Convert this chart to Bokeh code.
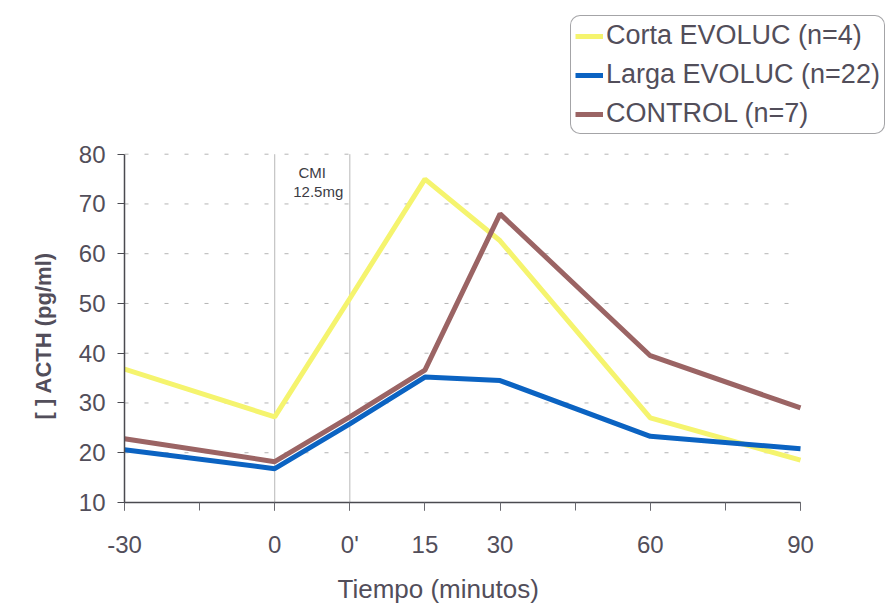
from bokeh.plotting import figure
from bokeh.models import Range1d, FixedTicker, Label, Legend, LegendItem, Title
from bokeh.embed import file_html
from bokeh.resources import INLINE

# ---- data ----
time_labels = ["-30", "0", "0'", "15", "30", "60", "90"]
slots = [0, 2, 3, 4, 5, 7, 9]          # spacing of the time axis as drawn
corta = [36.8, 27.2, 51.0, 75.0, 62.6, 27.0, 18.5]
larga = [20.6, 16.8, 25.8, 35.2, 34.5, 23.3, 20.8]
control = [22.8, 18.2, 27.2, 36.6, 68.0, 39.5, 29.0]
series_names = ["Corta EVOLUC (n=4)", "Larga EVOLUC (n=22)", "CONTROL (n=7)"]
y_ticks = [10, 20, 30, 40, 50, 60, 70, 80]
x_title = "Tiempo (minutos)"
y_title = "[ ] ACTH (pg/ml)"

TXT = "#524e5a"
FONT = "Liberation Sans"
W, H = 896, 614
LEFT, BOTTOM = 124, 111           # frame left / bottom border in px
AX_TOP, AX_RIGHT = 154, 800       # where the axes end (px from top-left)

# ranges: the frame is extended up and right so the legend lives inside it
y_per_px = (y_ticks[-1] - y_ticks[0]) / (H - BOTTOM - AX_TOP)
x_per_px = (slots[-1] - slots[0]) / (AX_RIGHT - LEFT)
y_end = y_ticks[-1] + AX_TOP * y_per_px
x_end = slots[-1] + (W - AX_RIGHT) * x_per_px

p = figure(width=W, height=H, output_backend="svg", toolbar_location=None,
           x_range=Range1d(slots[0], x_end), y_range=Range1d(y_ticks[0], y_end),
           min_border_left=LEFT, min_border_right=0, min_border_top=0,
           min_border_bottom=BOTTOM)
p.outline_line_color = None
p.background_fill_color = "white"
p.xgrid.grid_line_color = None
p.ygrid.grid_line_color = None

# dotted horizontal guides, only across the data area
p.segment(x0=[slots[0]] * len(y_ticks[1:]), x1=[slots[-1]] * len(y_ticks[1:]),
          y0=y_ticks[1:], y1=y_ticks[1:], line_color="#b4b4b4", line_width=1,
          line_dash="4 16")

# axes
p.xaxis.ticker = FixedTicker(ticks=slots, minor_ticks=list(range(slots[0], slots[-1] + 1)))
p.xaxis.major_label_overrides = {s: l for s, l in zip(slots, time_labels)}
p.xaxis.bounds = (slots[0], slots[-1])
p.yaxis.ticker = FixedTicker(ticks=y_ticks)
p.yaxis.bounds = (y_ticks[0], y_ticks[-1])
for ax in (p.xaxis, p.yaxis):
    ax.axis_line_color = "#4a4a50"
    ax.axis_line_width = 1.5
    ax.major_tick_line_color = "#4a4a50"
    ax.minor_tick_line_color = "#6a6a70"
    ax.major_tick_in = 0
    ax.minor_tick_in = 0
    ax.major_label_text_color = TXT
    ax.major_label_text_font = FONT
    ax.major_label_text_font_size = "24px"
p.xaxis.major_tick_out = 8
p.xaxis.minor_tick_out = 8
p.yaxis.major_tick_out = 7
p.yaxis.minor_tick_out = 0
p.xaxis.major_label_standoff = 20
p.yaxis.major_label_standoff = 12

# axis titles as side titles so they can sit where the original has them
p.add_layout(Title(text=y_title, align="left", offset=83, standoff=40,
                   text_font=FONT, text_font_size="22px", text_font_style="bold",
                   text_color=TXT), "left")
p.add_layout(Title(text=x_title, align="left", offset=213, standoff=22,
                   text_font=FONT, text_font_size="26px", text_font_style="normal",
                   text_color=TXT), "below")

# vertical markers at 0 and 0' (administration of CMI)
p.segment(x0=slots[1:3], x1=slots[1:3], y0=[y_ticks[0]] * 2, y1=[y_ticks[-1]] * 2,
          line_color="#b8b8b8", line_width=1)

mid = (slots[1] + slots[2]) / 2
p.add_layout(Label(x=mid, y=76.3, text="CMI", text_align="center",
                   text_baseline="middle", text_font=FONT, text_font_size="15px",
                   text_color="#3c3c44"))
p.add_layout(Label(x=mid + 0.08, y=72.6, text="12.5mg", text_align="center",
                   text_baseline="middle", text_font=FONT, text_font_size="15px",
                   text_color="#3c3c44"))

colors = ["#f5f46e", "#0b63c2", "#9b6464"]
r_corta = p.line(slots, corta, line_color=colors[0], line_width=5)
r_larga = p.line(slots, larga, line_color=colors[1], line_width=5)
r_control = p.line(slots, control, line_color=colors[2], line_width=5)

legend = Legend(items=[LegendItem(label=n, renderers=[r]) for n, r in
                       zip(series_names, [r_corta, r_larga, r_control])],
                location=(446, 368))
legend.label_text_font = FONT
legend.label_text_font_size = "27px"
legend.label_text_color = TXT
legend.glyph_width = 28
legend.glyph_height = 30
legend.label_height = 30
legend.label_standoff = 3
legend.spacing = 8
legend.padding = 4
legend.margin = 0
legend.border_line_color = "#4a4a50"
legend.border_line_width = 1.5
legend.background_fill_alpha = 1
legend.border_radius = 10
p.add_layout(legend, "center")

open("out.html", "w").write(file_html(p, INLINE))
